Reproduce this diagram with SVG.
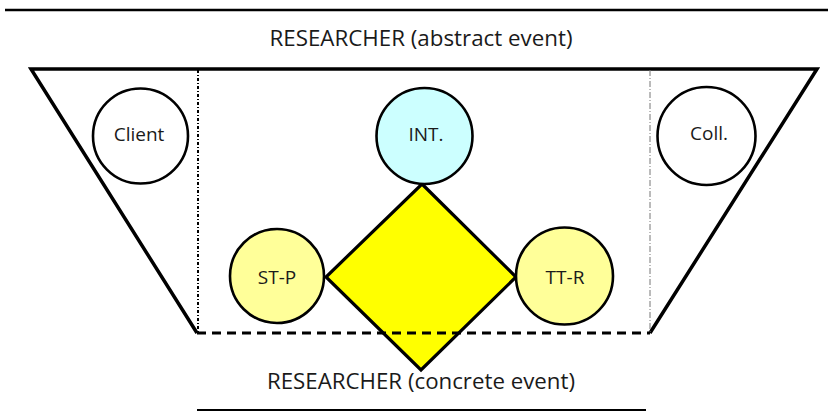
<svg xmlns="http://www.w3.org/2000/svg" width="828" height="411" viewBox="0 0 828 411">
<style>
.t{font-family:"Open Sans","Noto Sans","Liberation Sans",sans-serif;fill:#1a1a1a;text-anchor:middle}
.title{font-size:21px}
.lbl{font-size:19px}
.c{stroke:#000;stroke-width:2.6}
</style>
<rect width="828" height="411" fill="#fff"/>
<g id="frame">
<line x1="5" y1="10" x2="828" y2="10" stroke="#000" stroke-width="2.5"/>
<polyline points="197,333 31,69 817,69 650,333" fill="none" stroke="#000" stroke-width="3.5" stroke-linejoin="miter"/>
<line x1="198" y1="70" x2="198" y2="333" stroke="#000" stroke-width="2" stroke-dasharray="3 2 1 2"/>
<line x1="650" y1="70" x2="650" y2="333" stroke="#777" stroke-width="1" stroke-dasharray="6 2 1 2"/>
<line x1="197" y1="410" x2="646" y2="410" stroke="#000" stroke-width="1.8"/>
<text class="t title" x="421" y="46" textLength="303" lengthAdjust="spacingAndGlyphs">RESEARCHER (abstract event)</text>
<text class="t title" x="421" y="388.5" textLength="308" lengthAdjust="spacingAndGlyphs">RESEARCHER (concrete event)</text>
</g>
<g id="diamond">
<polygon points="422,184 516,277 421,370 326,277" fill="#ffff00" stroke="#000" stroke-width="3.2" stroke-linejoin="miter"/>
</g>
<line x1="197" y1="333" x2="650" y2="333" stroke="#000" stroke-width="3" stroke-dasharray="9 6"/>
<g id="client">
<circle class="c" cx="140.5" cy="136" r="47.5" fill="#fff"/>
<text class="t lbl" x="139" y="141">Client</text>
</g>
<g id="int">
<circle class="c" cx="424.5" cy="136" r="48" fill="#ccffff"/>
<text class="t lbl" x="426" y="141">INT.</text>
</g>
<g id="coll">
<circle class="c" cx="706.5" cy="136" r="49" fill="#fff"/>
<text class="t lbl" x="709" y="140">Coll.</text>
</g>
<g id="stp">
<circle class="c" cx="277" cy="276" r="47" fill="#ffff99"/>
<text class="t lbl" x="277" y="284">ST-P</text>
</g>
<g id="ttr">
<circle class="c" cx="564.5" cy="276" r="48.5" fill="#ffff99"/>
<text class="t lbl" x="565" y="284">TT-R</text>
</g>
</svg>
